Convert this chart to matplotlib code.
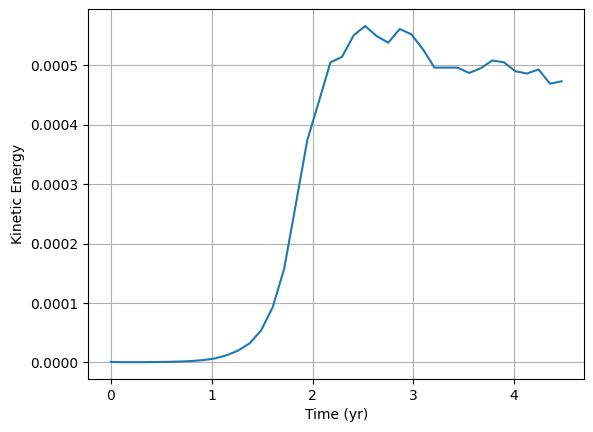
import matplotlib
matplotlib.use("Agg")
import matplotlib.pyplot as plt

time_yr = [0.000, 0.115, 0.229, 0.344, 0.458, 0.573, 0.688, 0.802, 0.917, 1.032,
           1.146, 1.261, 1.375, 1.490, 1.605, 1.719, 1.834, 1.948, 2.063, 2.178,
           2.292, 2.407, 2.522, 2.636, 2.751, 2.865, 2.980, 3.095, 3.209, 3.324,
           3.438, 3.553, 3.668, 3.782, 3.897, 4.012, 4.126, 4.241, 4.355, 4.470]

kinetic_energy = [0.0000010, 0.0000005, 0.0000005, 0.0000006, 0.0000008, 0.0000011, 0.0000016, 0.0000025, 0.0000040, 0.0000068,
                  0.0000120, 0.0000200, 0.0000320, 0.0000540, 0.0000930, 0.0001580, 0.0002660, 0.0003740, 0.0004390, 0.0005050,
                  0.0005140, 0.0005500, 0.0005660, 0.0005490, 0.0005380, 0.0005610, 0.0005520, 0.0005270, 0.0004960, 0.0004960,
                  0.0004960, 0.0004870, 0.0004950, 0.0005080, 0.0005050, 0.0004900, 0.0004860, 0.0004930, 0.0004690, 0.0004730]

fig = plt.figure(figsize=(5.93, 4.32), dpi=100)
ax = fig.add_axes([0.149, 0.1227, 0.836, 0.856])
ax.plot(time_yr, kinetic_energy, color="#1f77b4", linewidth=1.5)
ax.set_xlabel("Time (yr)")
ax.set_ylabel("Kinetic Energy")
ax.grid(True)
fig.savefig("out.png", dpi=100)
